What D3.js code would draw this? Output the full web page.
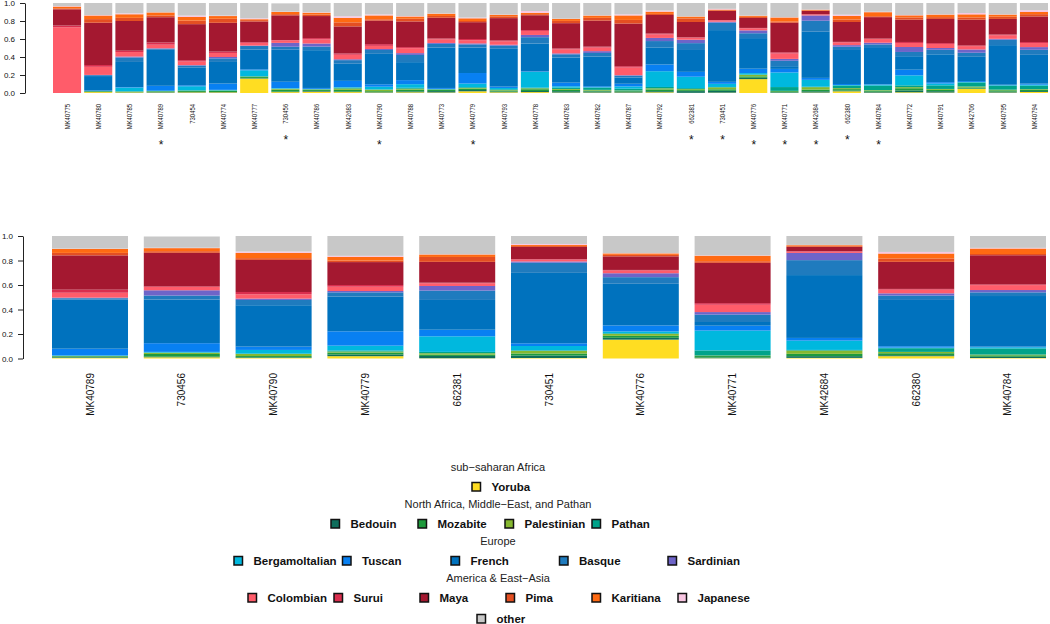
<!DOCTYPE html>
<html><head><meta charset="utf-8">
<script src="https://cdn.jsdelivr.net/npm/d3@7"></script>
<style>body{margin:0;background:#fff}text{font-family:"Liberation Sans",Arial,sans-serif}</style>
</head><body><svg id="c" width="1050" height="624"></svg>
<script>
const samples = ["MK40775","MK40780","MK40785","MK40789","730454","MK40774","MK40777","730456","MK40786","MK42683","MK40790","MK40788","MK40773","MK40779","MK40793","MK40778","MK40783","MK40782","MK40787","MK40792","662381","730451","MK40776","MK40771","MK42684","662380","MK40784","MK40772","MK40791","MK42706","MK40795","MK40794"];
const starred = ["MK40789","730456","MK40790","MK40779","662381","730451","MK40776","MK40771","MK42684","662380","MK40784"];
const components = ["Yoruba","Bedouin","Mozabite","Palestinian","Pathan","Bergamoltalian","Tuscan","French","Basque","Sardinian","Colombian","Surui","Maya","Pima","Karitiana","Japanese","other"];
const colors = ["#FFDD22","#0E6E5C","#1E9A3C","#86B830","#00A38A","#00B8DE","#0880F2","#0072BE","#1F7BBE","#6E64C8","#FF5C6A","#DA2E4E","#A41830","#E44F22","#FF6A12","#F8C6E2","#C8C8C8"];

const Yoruba = [0,0.01,0.007,0.005,0.007,0.007,0.16,0.01,0.015,0.01,0.005,0.008,0.006,0.019,0.008,0.01,0.005,0.005,0.005,0.008,0.002,0.004,0.154,0.002,0.005,0.019,0.004,0.008,0.005,0.045,0.005,0.012];
const Bedouin = [0,0.003,0.003,0.005,0.005,0.004,0.005,0.005,0.008,0.005,0.005,0.01,0.015,0.014,0.008,0.012,0.015,0.012,0.01,0.012,0.019,0.02,0.015,0.006,0.014,0.008,0.01,0.02,0.015,0.005,0.01,0.01];
const Mozabite = [0,0.007,0.005,0.008,0.01,0.012,0.012,0.022,0.012,0.02,0.01,0.02,0.012,0.016,0.012,0.02,0.015,0.01,0.008,0.02,0.011,0.017,0.016,0.012,0.019,0.016,0.012,0.025,0.015,0.012,0.015,0.012];
const Palestinian = [0,0,0.002,0.002,0.003,0.003,0.005,0.009,0.005,0.015,0.017,0.01,0.005,0.008,0.005,0.01,0.01,0.008,0.005,0.012,0.011,0.022,0.016,0.004,0.027,0.011,0.006,0.012,0.01,0.01,0.007,0.008];
const Pathan = [0,0.003,0.003,0.002,0.005,0.004,0.005,0.003,0.003,0.01,0.003,0.01,0.005,0.008,0.008,0.008,0.015,0.025,0.02,0.015,0.011,0.004,0.005,0.042,0.005,0.03,0.05,0.02,0.04,0.045,0.045,0.04];
const Bergamoltalian = [0,0,0.04,0.003,0.045,0.005,0.065,0.005,0.003,0.005,0.03,0.04,0.003,0.04,0.015,0.175,0.015,0.005,0.025,0.175,0.127,0.035,0.015,0.162,0.076,0.005,0.01,0.111,0.02,0.005,0.005,0.01];
const Tuscan = [0,0.005,0.005,0.055,0.01,0.07,0.01,0.071,0.01,0.07,0.027,0.045,0.01,0.117,0.015,0.005,0.04,0.01,0.03,0.075,0.054,0.022,0.049,0.04,0.022,0.011,0.005,0.063,0.015,0.01,0.005,0.012];
const French = [0,0.16,0.28,0.40,0.2,0.24,0.22,0.356,0.42,0.19,0.338,0.2,0.45,0.283,0.42,0.31,0.28,0.33,0.07,0.19,0.243,0.575,0.34,0.03,0.513,0.378,0.413,0.15,0.31,0.27,0.44,0.32];
const Basque = [0,0.01,0.05,0.012,0.02,0.04,0.04,0.033,0.04,0.04,0.043,0.08,0.04,0.035,0.035,0.07,0.035,0.04,0.02,0.07,0.076,0.083,0.054,0.06,0.122,0.036,0.03,0.047,0.05,0.045,0.06,0.056];
const Sardinian = [0,0.003,0.01,0.005,0.005,0.015,0.005,0.043,0.034,0.01,0.011,0.02,0.01,0.011,0.01,0.025,0.01,0.02,0.005,0.035,0.038,0.01,0.032,0.021,0.059,0.018,0.019,0.055,0.02,0.037,0.01,0.03];
const Colombian = [0.73,0.09,0.05,0.04,0.04,0.045,0.03,0.027,0.045,0.05,0.035,0.055,0.04,0.035,0.038,0.045,0.045,0.04,0.085,0.04,0.022,0.015,0.022,0.06,0.01,0.03,0.04,0.045,0.045,0.037,0.04,0.045];
const Surui = [0.02,0.02,0.015,0.025,0.015,0.015,0.008,0.005,0.015,0.015,0.019,0.012,0.01,0.014,0.01,0.01,0.01,0.01,0.015,0.01,0.005,0.004,0.005,0.013,0.004,0.006,0.006,0.011,0.01,0.008,0.008,0.011];
const Maya = [0.18,0.47,0.33,0.28,0.4,0.32,0.23,0.274,0.245,0.3,0.262,0.285,0.23,0.187,0.248,0.164,0.281,0.29,0.474,0.205,0.17,0.1,0.111,0.329,0.035,0.221,0.238,0.248,0.268,0.286,0.173,0.285];
const Pima = [0.01,0.04,0.035,0.02,0.04,0.045,0.015,0.013,0.017,0.045,0.014,0.03,0.02,0.013,0.02,0.012,0.025,0.03,0.04,0.012,0.04,0.008,0.012,0.013,0.006,0.028,0.01,0.025,0.02,0.025,0.025,0.025];
const Karitiana = [0.02,0.04,0.04,0.033,0.04,0.03,0.01,0.025,0.02,0.05,0.043,0.025,0.025,0.03,0.017,0.015,0.023,0.025,0.05,0.025,0.02,0.008,0.012,0.045,0.008,0.04,0.045,0.023,0.028,0.034,0.023,0.024];
const Japanese = [0.005,0.005,0.01,0.002,0.015,0.005,0.01,0.003,0.005,0.018,0.011,0.005,0.003,0.008,0.003,0.02,0.002,0.003,0.012,0.012,0.002,0.008,0.002,0.003,0.002,0.013,0.005,0.004,0.003,0.015,0.003,0.02];
const other = [0.035,0.134,0.115,0.103,0.14,0.14,0.17,0.092,0.103,0.147,0.127,0.145,0.116,0.162,0.128,0.089,0.174,0.137,0.126,0.084,0.149,0.065,0.14,0.158,0.073,0.13,0.097,0.133,0.126,0.111,0.126,0.08];

const yTicks = [0,0.2,0.4,0.6,0.8,1.0];

const legendGroups = [
  {title:"sub\u2212saharan Africa", items:["Yoruba"]},
  {title:"North Africa, Middle\u2212East, and Pathan", items:["Bedouin","Mozabite","Palestinian","Pathan"]},
  {title:"Europe", items:["Bergamoltalian","Tuscan","French","Basque","Sardinian"]},
  {title:"America & East\u2212Asia", items:["Colombian","Surui","Maya","Pima","Karitiana","Japanese"]},
  {title:null, items:["other"]}
];

const series = [Yoruba,Bedouin,Mozabite,Palestinian,Pathan,Bergamoltalian,Tuscan,French,Basque,Sardinian,Colombian,Surui,Maya,Pima,Karitiana,Japanese,other];
const rows = samples.map((s,i)=>{const o={sample:s}; components.forEach((c,j)=>o[c]=series[j][i]); return o;});
const color = d3.scaleOrdinal().domain(components).range(colors);
const stack = d3.stack().keys(components);
const svg = d3.select("#c");

function panel(data, x0, x1, yTop, yBot, axisX, pad, labelY, fontSize, lenScale, withStars){
  const x = d3.scaleBand().domain(data.map(d=>d.sample)).range([x0,x1]).paddingInner(pad).paddingOuter(0);
  const y = d3.scaleLinear().domain([0,1]).range([yBot,yTop]);
  const g = svg.append("g");
  g.selectAll("g.layer").data(stack(data)).join("g").attr("fill",d=>color(d.key))
    .selectAll("rect").data(d=>d).join("rect")
    .attr("x",d=>x(d.data.sample)).attr("width",x.bandwidth())
    .attr("y",d=>y(d[1])).attr("height",d=>Math.max(0,y(d[0])-y(d[1])));
  const ax = g.append("g").attr("transform",`translate(${axisX},0)`)
    .call(d3.axisLeft(y).tickValues(yTicks).tickFormat(d3.format(".1f")).tickSize(5).tickSizeOuter(0).tickPadding(5));
  ax.select(".domain").attr("stroke","#222");
  ax.selectAll(".tick line").attr("stroke","#222");
  ax.selectAll(".tick text").attr("font-size",8).attr("fill","#111").attr("font-family","Liberation Sans");
  data.forEach(d=>{
    const cx = x(d.sample)+x.bandwidth()/2;
    const t = g.append("text").attr("transform",`translate(${cx},${labelY}) rotate(-90) scale(${lenScale},1)`)
      .attr("text-anchor","end").attr("dy","0.35em").attr("font-size",fontSize).attr("fill","#111").text(d.sample);
    if(withStars && starred.includes(d.sample)){
      const len = t.node().getComputedTextLength()*lenScale;
      g.append("text").attr("x",cx+0.5).attr("y",labelY+len+20).attr("text-anchor","middle")
        .attr("font-size",12).attr("fill","#111").text("*");
    }
  });
}

panel(rows, 53, 1048, 3, 93, 25, 0.1, 104, 8, 0.74, true);
panel(rows.filter(d=>starred.includes(d.sample)), 52, 1046, 236, 358.5, 23, 0.172, 373, 10, 1.0, false);

// legend
const rowLayout = [
  {ty:467, y:487, x0:472, step:0},
  {ty:504, y:524, x0:331, step:87},
  {ty:541, y:561, x0:234, step:108.5},
  {ty:578, y:598, x0:248, step:86},
  {ty:null, y:619, x0:477, step:0}
];
const lg = svg.append("g");
legendGroups.forEach((grp,gi)=>{
  const L = rowLayout[gi];
  if(grp.title) lg.append("text").attr("x",498).attr("y",L.ty).attr("dy","0.35em").attr("text-anchor","middle")
    .attr("font-size",11).attr("fill","#222").text(grp.title);
  grp.items.forEach((it,i)=>{
    const sx = L.x0 + i*L.step;
    lg.append("rect").attr("x",sx).attr("y",L.y-4.5).attr("width",8.5).attr("height",8.5)
      .attr("fill",color(it)).attr("stroke","#111").attr("stroke-width",1.5);
    lg.append("text").attr("x",sx+19.5).attr("y",L.y).attr("dy","0.35em").attr("font-size",11.5)
      .attr("font-weight","bold").attr("fill","#111").text(it);
  });
});
</script></body></html>
